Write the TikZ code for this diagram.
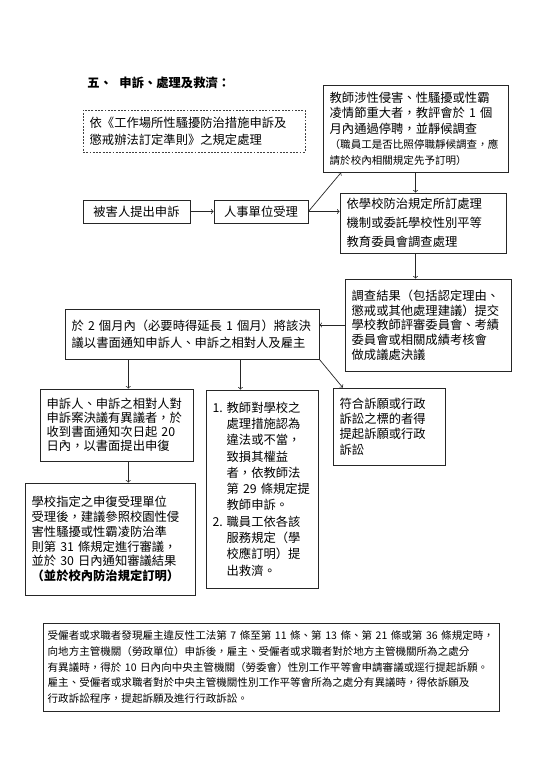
\documentclass[tikz,border=0pt]{standalone}
\usepackage{fontspec}
\setmainfont{Noto Sans CJK TC}
\usetikzlibrary{calc}

\begin{document}
\begin{tikzpicture}[
      box/.style={draw=black!85,line width=0.7pt,inner xsep=0.2cm,inner ysep=0.1cm,align=left,font=\fontsize{10.5}{13}\selectfont},
      dashbox/.style={box,draw=black!75,line width=0.5pt,dash pattern=on 1.6pt off 1.2pt},
      link/.style={draw=black!85,line width=0.6pt}]
      \useasboundingbox (0,0) rectangle (16.29,-23.04);

      \node[anchor=west,font=\fontsize{10.5}{13}\selectfont\bfseries] (title) at (2.50,-2.49) {五、\hspace{0.6em}申訴、處理及救濟：};

      \node[dashbox,minimum width=6.66cm,minimum height=1.26cm,text width=6.26cm,font=\fontsize{10.5}{14.4}\selectfont] (law) at (5.82,-3.93)
        {依《工作場所性騷擾防治措施申訴及\\懲戒辦法訂定準則》之規定處理};
      \node[box,minimum width=5.55cm,minimum height=2.61cm,text width=5.15cm,font=\fontsize{10.5}{13.2}\selectfont] (teacher) at (12.465,-3.855)
        {教師涉性侵害、性騷擾或性霸\\凌情節重大者，教評會於 1 個\\月內通過停聘，並靜候調查\\{\fontsize{9}{13.2}\selectfont（職員工是否比照停職靜候調查，應}\\{\fontsize{9}{13.2}\selectfont 請於校內相關規定先予訂明）}};

      \node[box,align=center,minimum width=3.21cm,minimum height=0.69cm] (victim) at (4.095,-6.345) {被害人提出申訴};
      \node[box,align=center,minimum width=2.82cm,minimum height=0.69cm] (hr) at (7.83,-6.345) {人事單位受理};
      \node[box,minimum width=4.98cm,minimum height=1.80cm,text width=4.58cm,font=\fontsize{10.5}{16}\selectfont] (school) at (12.69,-6.69)
        {依學校防治規定所訂處理\\機制或委託學校性別平等\\教育委員會調查處理};

      \node[box,minimum width=4.98cm,minimum height=2.76cm,text width=4.58cm,font=\fontsize{10.5}{12.5}\selectfont] (result) at (12.84,-9.75)
        {調查結果（包括認定理由、\\懲戒或其他處理建議）提交\\學校教師評審委員會、考績\\委員會或相關成績考核會\\做成議處決議};
      \node[box,minimum width=7.62cm,minimum height=1.50cm,text width=7.22cm,font=\fontsize{10.5}{14.5}\selectfont] (notify) at (5.76,-10.02)
        {於 2 個月內（必要時得延長 1 個月）將該決\\議以書面通知申訴人、申訴之相對人及雇主};

      \node[box,minimum width=4.59cm,minimum height=2.16cm,text width=4.19cm,font=\fontsize{10.5}{12}\selectfont] (appeal) at (3.495,-12.75)
        {申訴人、申訴之相對人對\\申訴案決議有異議者，於\\收到書面通知次日起 20\\日內，以書面提出申復};
      \node[box,minimum width=5.10cm,minimum height=3.36cm,text width=4.70cm,font=\fontsize{10.5}{12.75}\selectfont] (review) at (3.30,-16.17)
        {學校指定之申復受理單位\\受理後，建議參照校園性侵\\害性騷擾或性霸凌防治準\\則第 31 條規定進行審議，\\並於 30 日內通知審議結果\\{\bfseries（並於校內防治規定訂明）}};
      \node[box,minimum width=3.36cm,minimum height=5.94cm,text width=2.96cm,font=\fontsize{10.5}{13.9}\selectfont] (remedy) at (7.86,-14.67)
        {\makebox[0.42cm][l]{1.}教師對學校之\\\hspace*{0.42cm}處理措施認為\\\hspace*{0.42cm}違法或不當，\\\hspace*{0.42cm}致損其權益\\\hspace*{0.42cm}者，依教師法\\\hspace*{0.42cm}第 29 條規定提\\\hspace*{0.42cm}教師申訴。\\\makebox[0.42cm][l]{2.}職員工依各該\\\hspace*{0.42cm}服務規定（學\\\hspace*{0.42cm}校應訂明）提\\\hspace*{0.42cm}出救濟。};
      \node[box,minimum width=3.36cm,minimum height=2.31cm,text width=2.96cm] (litig) at (11.67,-12.795)
        {符合訴願或行政\\訴訟之標的者得\\提起訴願或行政\\訴訟};

      \node[box,inner xsep=0.14cm,minimum width=13.68cm,minimum height=2.64cm,text width=13.40cm,font=\fontsize{9}{13.6}\selectfont] (bottom) at (8.13,-20.01)
        {受僱者或求職者發現雇主違反性工法第 7 條至第 11 條、第 13 條、第 21 條或第 36 條規定時，\\向地方主管機關（勞政單位）申訴後，雇主、受僱者或求職者對於地方主管機關所為之處分\\有異議時，得於 10 日內向中央主管機關（勞委會）性別工作平等會申請審議或逕行提起訴願。\\雇主、受僱者或求職者對於中央主管機關性別工作平等會所為之處分有異議時，得依訴願及\\行政訴訟程序，提起訴願及進行行政訴訟。};

      \coordinate (n1) at ($(notify.south west)!0.25!(notify.south east)$);
      \coordinate (n2) at ($(notify.south west)!0.69!(notify.south east)$);

      \draw[link,->] (victim) -- (hr);
      \draw[link,->] (hr.east) -- (school.west |- hr.east);
      \draw[link,->] (hr.east) -- ($(teacher.south west)!0.1!(teacher.south east)$);
      \draw[link,->] (teacher.south) -- (teacher.south |- school.north);
      \draw[link,->] (school.south -| teacher.south) -- (teacher.south |- result.north);
      \draw[link,->] (result.west) -- (result.west -| notify.east);
      \draw[link,->] (n1) -- (n1 |- appeal.north);
      \draw[link,->] (n2) -- (n2 |- remedy.north);
      \draw[link,->] (notify.south east) -- ($(litig.north west)!0.09!(litig.north east)$);
      \draw[link,->] (appeal.south -| n1) -- (n1 |- review.north);
\end{tikzpicture}
\end{document}
